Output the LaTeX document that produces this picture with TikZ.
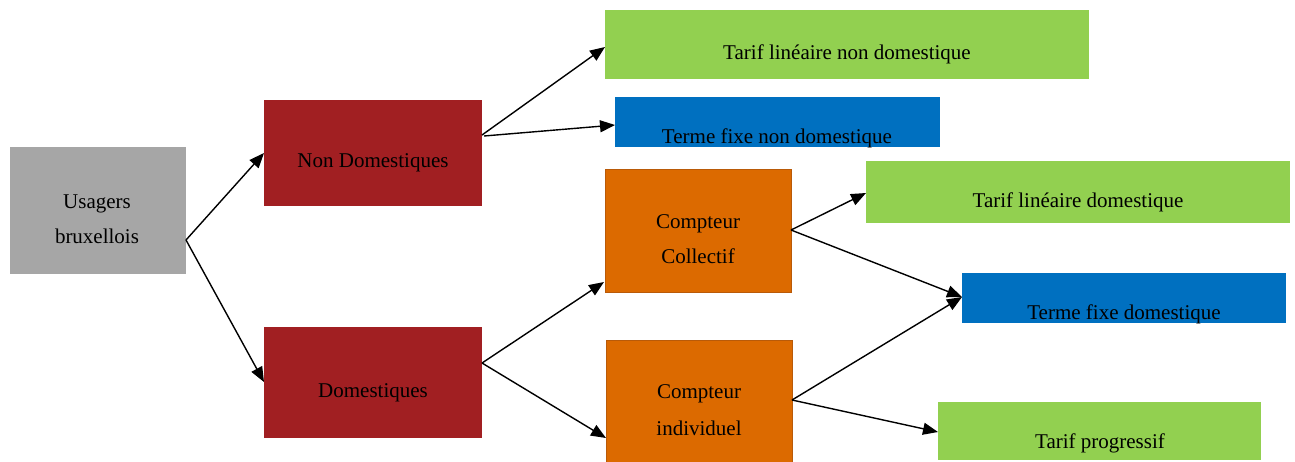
\documentclass[tikz,border=0pt]{standalone}
\usepackage{fontspec}
\setmainfont{Liberation Serif}
\usetikzlibrary{arrows.meta,calc}
\definecolor{boxgray}{HTML}{A6A6A6}
\definecolor{boxred}{HTML}{A11F22}
\definecolor{boxgreen}{HTML}{92D050}
\definecolor{boxblue}{HTML}{0070C0}
\definecolor{boxorange}{HTML}{DC6A00}
\definecolor{edgeorange}{HTML}{B95A08}
\tikzset{
  box/.style={rectangle, inner sep=0pt, outer sep=0pt, anchor=north west},
  lbl/.style={anchor=base, inner sep=0pt, font=\fontsize{21}{25}\selectfont},
  arr/.style={line width=1.4pt, -{Triangle[length=15pt,width=12pt]}},
}
\begin{document}
\begin{tikzpicture}[x=1pt,y=-1pt]
\useasboundingbox (0,0) rectangle (1295,461);

% boxes (top-left corner, size in px)
\node[box, fill=boxgray,  minimum width=176pt, minimum height=127pt] (U)   at (10,147)  {};
\node[box, fill=boxred,   minimum width=218pt, minimum height=106pt] (ND)  at (264,100) {};
\node[box, fill=boxred,   minimum width=218pt, minimum height=111pt] (D)   at (264,327) {};
\node[box, fill=boxgreen, minimum width=484pt, minimum height=69pt]  (TLN) at (605,10)  {};
\node[box, fill=boxblue,  minimum width=325pt, minimum height=50pt]  (TFN) at (615,97)  {};
\node[box, fill=boxorange, draw=edgeorange, line width=0.8pt, minimum width=186pt, minimum height=123pt] (CC) at (605,169) {};
\node[box, fill=boxorange, draw=edgeorange, line width=0.8pt, minimum width=186pt, minimum height=124pt] (CI) at (606,340) {};
\node[box, fill=boxgreen, minimum width=424pt, minimum height=62pt]  (TLD) at (866,161) {};
\node[box, fill=boxblue,  minimum width=324pt, minimum height=50pt]  (TFD) at (962,273) {};
\node[box, fill=boxgreen, minimum width=323pt, minimum height=58pt]  (TP)  at (938,402) {};

% labels
\node[lbl] (Ut1) at (97,208) {Usagers};
\node[lbl] (Ut2) at (97,243) {bruxellois};
\node[lbl] (NDt) at (373,167) {Non Domestiques};
\node[lbl] (Dt)  at (373,397) {Domestiques};
\node[lbl] (TLNt) at (847,59) {Tarif linéaire non domestique};
\begin{scope}
  \clip (TFN.north west) rectangle (TFN.south east);
  \node[lbl] (TFNt) at (777,143) {Terme fixe non domestique};
\end{scope}
\node[lbl] (CCt1) at (698,228) {Compteur};
\node[lbl] (CCt2) at (698,263) {Collectif};
\node[lbl] (CIt1) at (699,398) {Compteur};
\node[lbl] (CIt2) at (699,435) {individuel};
\node[lbl] (TLDt) at (1078,207) {Tarif linéaire domestique};
\begin{scope}
  \clip (TFD.north west) rectangle (TFD.south east);
  \node[lbl] (TFDt) at (1124,319) {Terme fixe domestique};
\end{scope}
\node[lbl] (TPt) at (1100,448) {Tarif progressif};

% connectors
\coordinate (uo)  at ($(U.north east)+(0,93)$);
\coordinate (ndo) at ($(ND.north east)+(0,35)$);
\coordinate (do)  at ($(D.north east)+(0,36)$);
\coordinate (cco) at ($(CC.north east)+(0,61)$);
\coordinate (cio) at ($(CI.north east)+(0,60)$);

\draw[arr] (uo) -- ($(ND.north west)+(0,53)$);
\draw[arr] (uo) -- ($(D.north west)+(0,55)$);
\draw[arr] (ndo) -- ($(TLN.north west)+(0,37)$);
\draw[arr] ($(ndo)+(2,1)$) -- ($(TFN.north west)+(0,28)$);
\draw[arr] (do) -- ($(CC.north west)+(-1,113)$);
\draw[arr] (do) -- ($(CI.north west)+(0,98)$);
\draw[arr] (cco) -- ($(TLD.north west)+(0,32)$);
\draw[arr] (cco) -- ($(TFD.north west)+(0,24)$);
\draw[arr] (cio) -- ($(TFD.north west)+(0,24)$);
\draw[arr] (cio) -- ($(TP.north west)+(0,30)$);
\end{tikzpicture}
\end{document}
